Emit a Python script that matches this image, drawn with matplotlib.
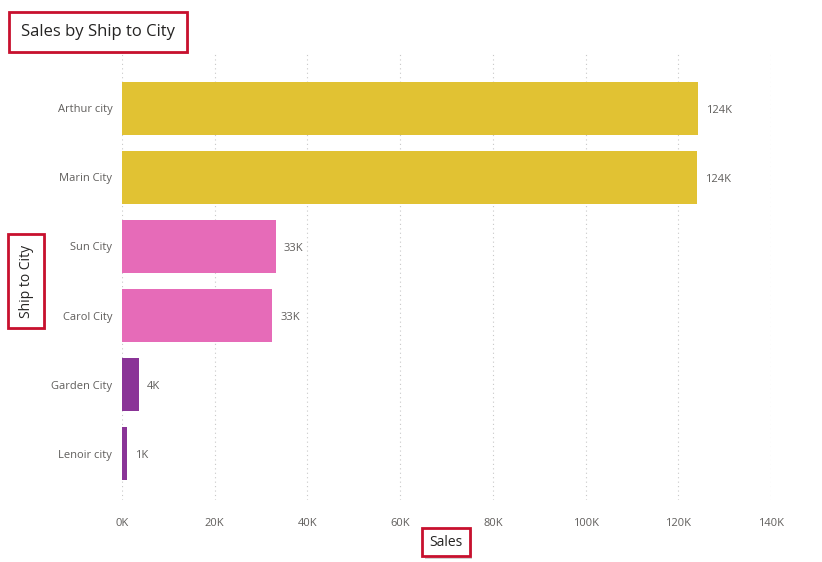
import matplotlib.pyplot as plt
from matplotlib.ticker import FuncFormatter
import matplotlib.patheffects as pe

# Data
cities = ["Arthur city", "Marin City", "Sun City", "Carol City", "Garden City", "Lenoir city"]
sales = [124200, 124100, 33200, 32400, 3600, 1100]
value_labels = ["124K", "124K", "33K", "33K", "4K", "1K"]
bar_colors = ["#E1C233", "#E1C233", "#E66BB8", "#E66BB8", "#8A3497", "#8A3497"]

plt.rcParams['font.family'] = ['Open Sans', 'DejaVu Sans']
grey = "#605E5C"
red = "#C8102E"

fig = plt.figure(figsize=(8.22, 5.62), dpi=100)
ax = fig.add_axes([0.1484, 0.1103, 0.7896, 0.7954])

y = range(len(cities))
ax.barh(y, sales, height=0.77, color=bar_colors)
ax.set_ylim(5.67, -0.8)
ax.set_xlim(0, 140000)
ax.set_yticks(list(y))
ax.set_yticklabels(cities)
ax.set_xticks(range(0, 140001, 20000))
ax.xaxis.set_major_formatter(FuncFormatter(lambda v, p: f"{int(v/1000)}K"))
ax.tick_params(length=0, labelsize=8, colors=grey, pad=7)
ax.tick_params(axis='x', pad=13)
for s in ax.spines.values():
    s.set_visible(False)
ax.grid(axis='x', linestyle=(0, (1, 3)), color="#C8C8C8", linewidth=0.8)
ax.set_axisbelow(True)

for i, (v, lab) in enumerate(zip(sales, value_labels)):
    ax.text(v + 1700, i + 0.03, lab, va='center', ha='left', fontsize=8, color=grey)

shadow = [pe.withSimplePatchShadow(offset=(1.5, -1.5), alpha=0.25)]

t = fig.text(21 / 822, 1 - 32 / 562, "Sales by Ship to City", fontsize=12,
             color="#252423", va='center', ha='left',
             bbox=dict(boxstyle='square,pad=0.7', fc='white', ec=red, lw=2))
t.get_bbox_patch().set_path_effects(shadow)

yl = fig.text(26 / 822, 1 - 281 / 562, "Ship to City", fontsize=10, rotation=90,
              color="#252423", va='center', ha='center',
              bbox=dict(boxstyle='square,pad=0.75', fc='white', ec=red, lw=2))
yl.get_bbox_patch().set_path_effects(shadow)

xl = fig.text(446 / 822, 1 - 542 / 562, "Sales", fontsize=10,
              color="#252423", va='center', ha='center',
              bbox=dict(boxstyle='square,pad=0.5', fc='white', ec=red, lw=2))
xl.get_bbox_patch().set_path_effects(shadow)

fig.savefig("out.png", dpi=100)
